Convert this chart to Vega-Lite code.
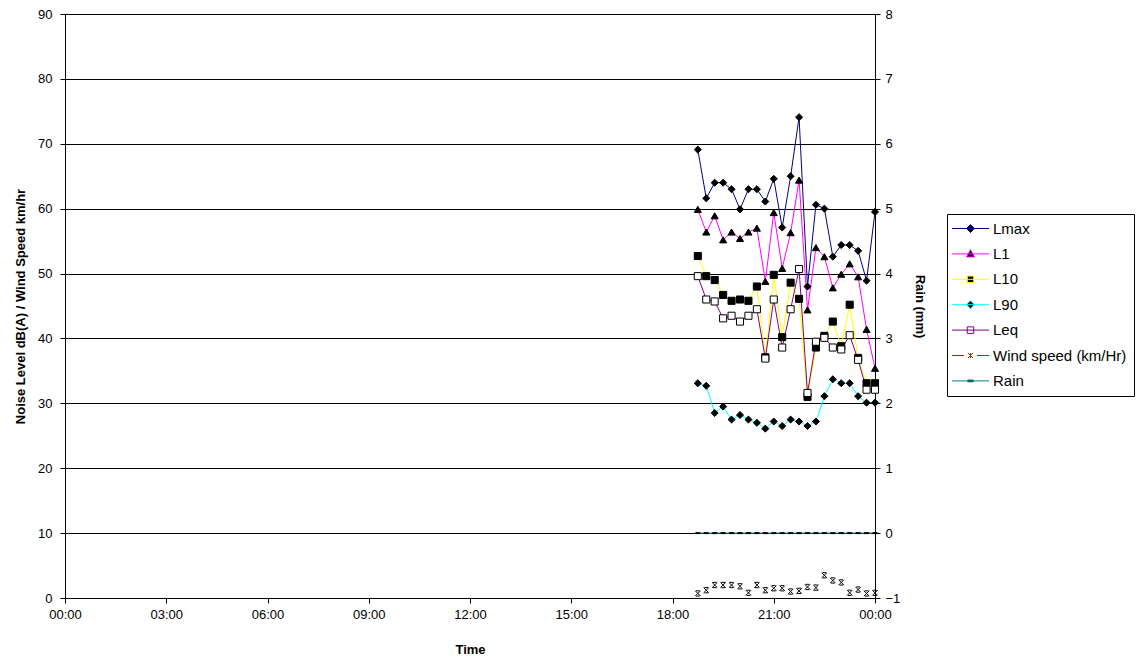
{
  "$schema": "https://vega.github.io/schema/vega-lite/v6.json",
  "width": 810,
  "height": 584,
  "autosize": {"type": "none"},
  "padding": {"left": 65, "top": 14, "right": 266, "bottom": 64},
  "background": "white",
  "config": {
    "view": {"stroke": null},
    "font": "Liberation Sans",
    "axis": {
      "labelFont": "Liberation Sans", "labelFontSize": 13, "labelColor": "black",
      "titleFont": "Liberation Sans", "titleFontSize": 13, "titleFontWeight": "bold", "titleColor": "black",
      "domainColor": "black", "tickColor": "black", "tickSize": 5, "grid": false
    }
  },
  "data": {"values": [
    {"time": "2024-01-01T18:45", "Lmax": 69.1, "L1": 59.9, "L10": 52.7, "L90": 33.1, "Leq": 49.6, "Wind": 0.7, "Rain": 0},
    {"time": "2024-01-01T19:00", "Lmax": 61.6, "L1": 56.4, "L10": 49.6, "L90": 32.7, "Leq": 46.0, "Wind": 1.2, "Rain": 0},
    {"time": "2024-01-01T19:15", "Lmax": 64.0, "L1": 58.9, "L10": 49.0, "L90": 28.5, "Leq": 45.7, "Wind": 2.0, "Rain": 0},
    {"time": "2024-01-01T19:30", "Lmax": 64.0, "L1": 55.2, "L10": 46.7, "L90": 29.5, "Leq": 43.1, "Wind": 2.0, "Rain": 0},
    {"time": "2024-01-01T19:45", "Lmax": 63.0, "L1": 56.4, "L10": 45.8, "L90": 27.5, "Leq": 43.5, "Wind": 2.0, "Rain": 0},
    {"time": "2024-01-01T20:00", "Lmax": 59.9, "L1": 55.4, "L10": 46.0, "L90": 28.2, "Leq": 42.6, "Wind": 1.8, "Rain": 0},
    {"time": "2024-01-01T20:15", "Lmax": 63.0, "L1": 56.4, "L10": 45.8, "L90": 27.5, "Leq": 43.5, "Wind": 0.8, "Rain": 0},
    {"time": "2024-01-01T20:30", "Lmax": 63.0, "L1": 57.0, "L10": 48.0, "L90": 27.0, "Leq": 44.5, "Wind": 2.0, "Rain": 0},
    {"time": "2024-01-01T20:45", "Lmax": 61.1, "L1": 48.8, "L10": 37.1, "L90": 26.1, "Leq": 36.9, "Wind": 1.2, "Rain": 0},
    {"time": "2024-01-01T21:00", "Lmax": 64.6, "L1": 59.4, "L10": 49.8, "L90": 27.2, "Leq": 46.0, "Wind": 1.5, "Rain": 0},
    {"time": "2024-01-01T21:15", "Lmax": 57.1, "L1": 50.8, "L10": 40.2, "L90": 26.5, "Leq": 38.6, "Wind": 1.5, "Rain": 0},
    {"time": "2024-01-01T21:30", "Lmax": 65.0, "L1": 56.3, "L10": 48.6, "L90": 27.5, "Leq": 44.5, "Wind": 1.0, "Rain": 0},
    {"time": "2024-01-01T21:45", "Lmax": 74.1, "L1": 64.4, "L10": 46.1, "L90": 27.2, "Leq": 50.7, "Wind": 1.1, "Rain": 0},
    {"time": "2024-01-01T22:00", "Lmax": 48.0, "L1": 44.4, "L10": 31.0, "L90": 26.5, "Leq": 31.6, "Wind": 1.7, "Rain": 0},
    {"time": "2024-01-01T22:15", "Lmax": 60.6, "L1": 54.0, "L10": 38.6, "L90": 27.2, "Leq": 39.5, "Wind": 1.6, "Rain": 0},
    {"time": "2024-01-01T22:30", "Lmax": 60.0, "L1": 52.6, "L10": 40.4, "L90": 31.1, "Leq": 40.1, "Wind": 3.5, "Rain": 0},
    {"time": "2024-01-01T22:45", "Lmax": 52.6, "L1": 47.8, "L10": 42.6, "L90": 33.7, "Leq": 38.6, "Wind": 2.7, "Rain": 0},
    {"time": "2024-01-01T23:00", "Lmax": 54.4, "L1": 49.9, "L10": 38.8, "L90": 33.1, "Leq": 38.3, "Wind": 2.4, "Rain": 0},
    {"time": "2024-01-01T23:15", "Lmax": 54.4, "L1": 51.5, "L10": 45.2, "L90": 33.1, "Leq": 40.5, "Wind": 0.8, "Rain": 0},
    {"time": "2024-01-01T23:30", "Lmax": 53.5, "L1": 49.5, "L10": 37.0, "L90": 31.1, "Leq": 36.7, "Wind": 1.3, "Rain": 0},
    {"time": "2024-01-01T23:45", "Lmax": 48.9, "L1": 41.4, "L10": 33.1, "L90": 30.1, "Leq": 32.1, "Wind": 0.7, "Rain": 0},
    {"time": "2024-01-02T00:00", "Lmax": 59.5, "L1": 35.4, "L10": 33.1, "L90": 30.1, "Leq": 32.1, "Wind": 0.8, "Rain": 0}
  ]},
  "layer": [
    {
      "layer": [
        {
          "transform": [{"fold": ["Lmax", "L1", "L10", "L90", "Leq"], "as": ["series", "value"]}],
          "mark": {"type": "line", "strokeWidth": 1},
          "encoding": {
            "x": {
              "field": "time", "type": "temporal",
              "scale": {"domain": [{"year": 2024, "month": 1, "date": 1, "hours": 0}, {"year": 2024, "month": 1, "date": 2, "hours": 0}]},
              "axis": {
                "title": "Time", "format": "%H:%M", "labelOverlap": false, "labelFlush": false,
                "values": [
                  {"year": 2024, "month": 1, "date": 1, "hours": 0},
                  {"year": 2024, "month": 1, "date": 1, "hours": 3},
                  {"year": 2024, "month": 1, "date": 1, "hours": 6},
                  {"year": 2024, "month": 1, "date": 1, "hours": 9},
                  {"year": 2024, "month": 1, "date": 1, "hours": 12},
                  {"year": 2024, "month": 1, "date": 1, "hours": 15},
                  {"year": 2024, "month": 1, "date": 1, "hours": 18},
                  {"year": 2024, "month": 1, "date": 1, "hours": 21},
                  {"year": 2024, "month": 1, "date": 2, "hours": 0}
                ],
                "labelPadding": 5, "titlePadding": 22
              }
            },
            "y": {
              "field": "value", "type": "quantitative",
              "scale": {"domain": [0, 90], "nice": false},
              "axis": {
                "title": "Noise Level dB(A) / Wind Speed km/hr",
                "values": [0, 10, 20, 30, 40, 50, 60, 70, 80, 90],
                "grid": true, "gridColor": "black", "gridWidth": 1, "gridOpacity": 1,
                "labelPadding": 8, "titlePadding": 10
              }
            },
            "stroke": {
              "field": "series", "type": "nominal",
              "scale": {
                "domain": ["Lmax", "L1", "L10", "L90", "Leq", "Wind speed (km/Hr)", "Rain"],
                "range": ["#000080", "#FF00FF", "#FFFF00", "#00FFFF", "#800080", "#993300", "#008080"]
              },
              "legend": {
                "orient": "none", "legendX": 882, "legendY": 200,
                "title": null, "strokeColor": "black", "fillColor": "white",
                "padding": 7, "labelFont": "Liberation Sans", "labelFontSize": 15, "labelColor": "black",
                "symbolSize": 100, "symbolOffset": 9, "labelOffset": 15, "rowPadding": 9.4,
                "symbolStrokeWidth": 1,
                "encode": {
                  "symbols": {
                    "update": {
                      "shape": {"signal": "(datum.value==='Lmax'||datum.value==='L90') ? 'M-3.7,0H3.7M0,-0.8L0.8,0L0,0.8L-0.8,0Z' : datum.value==='L1' ? 'M-3.7,0H3.7M0,-0.85L0.8,0.6L-0.8,0.6Z' : (datum.value==='L10'||datum.value==='Leq') ? 'M-3.7,0H3.7M-0.65,-0.65H0.65V0.65H-0.65Z' : datum.value==='Rain' ? 'M-3.7,0H3.7M-0.55,-0.18H0.55V0.18H-0.55Z' : 'M-3.7,0H-1.3M1.3,0H3.7M-0.5,-0.5L0.5,0.5M-0.5,0.5L0.5,-0.5M0,-0.5V0.5'"},
                      "fill": {"signal": "datum.value==='Leq' ? 'white' : 'black'"},
                      "fillOpacity": {"value": 1},
                      "strokeWidth": {"value": 1}
                    }
                  }
                }
              }
            }
          }
        },
        {
          "transform": [{"fold": ["Lmax", "L1", "L10", "L90", "Leq"], "as": ["series", "value"]}],
          "mark": {"type": "point", "filled": false, "stroke": "black", "strokeWidth": 1, "opacity": 1, "size": 50},
          "encoding": {
            "x": {"field": "time", "type": "temporal"},
            "y": {"field": "value", "type": "quantitative"},
            "shape": {
              "field": "series", "type": "nominal",
              "scale": {"domain": ["Lmax", "L1", "L10", "L90", "Leq"], "range": ["diamond", "triangle-up", "square", "diamond", "square"]},
              "legend": null
            },
            "fill": {"condition": {"test": "datum.series === 'Leq'", "value": "white"}, "value": "black"}
          }
        },
        {
          "transform": [{"fold": ["Wind"], "as": ["series", "value"]}],
          "mark": {"type": "point", "filled": false, "stroke": "black", "strokeWidth": 1, "opacity": 1, "size": 28,
                   "shape": "M-1,-1L1,1M-1,1L1,-1M-0.7,-1H0.7M-0.7,1H0.7"},
          "encoding": {
            "x": {"field": "time", "type": "temporal"},
            "y": {"field": "value", "type": "quantitative"}
          }
        }
      ]
    },
    {
      "layer": [
        {
          "mark": {"type": "line", "stroke": "#008080", "strokeWidth": 1},
          "encoding": {
            "x": {"field": "time", "type": "temporal"},
            "y": {
              "field": "Rain", "type": "quantitative",
              "scale": {"domain": [-1, 8], "nice": false},
              "axis": {
                "orient": "right", "title": "Rain (mm)", "format": "d",
                "values": [-1, 0, 1, 2, 3, 4, 5, 6, 7, 8],
                "grid": false, "labelPadding": 5, "titlePadding": 13
              }
            }
          }
        },
        {
          "mark": {"type": "point", "filled": false, "stroke": "black", "strokeWidth": 2, "opacity": 1, "size": 25, "shape": "M-1,0H1"},
          "encoding": {
            "x": {"field": "time", "type": "temporal"},
            "y": {"field": "Rain", "type": "quantitative"}
          }
        }
      ]
    }
  ],
  "resolve": {"scale": {"y": "independent"}}
}
